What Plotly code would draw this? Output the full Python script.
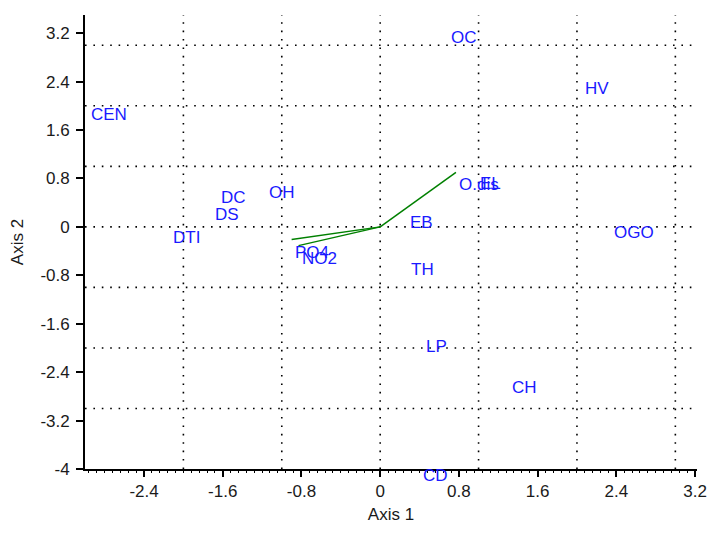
import plotly.graph_objects as go

# Sample scores (Axis 1, Axis 2) – label positions
sample_names = ["CEN", "DC", "DS", "DTI", "OH", "OC", "HV", "EL", "EB", "OGO", "TH", "LP", "CH", "CD"]
sample_x = [-2.76, -1.49, -1.56, -1.97, -1.00, 0.85, 2.20, 1.12, 0.42, 2.58, 0.43, 0.57, 1.47, 0.56]
sample_y = [1.86, 0.48, 0.20, -0.18, 0.56, 3.13, 2.28, 0.72, 0.08, -0.10, -0.71, -1.97, -2.65, -4.10]

# Variable loadings (biplot vectors)
var_names = ["O.dis", "PO4", "NO2"]
var_x = [0.77, -0.90, -0.83]
var_y = [0.90, -0.21, -0.31]

# Grid lines, ranges and ticks
grid_x = [-2, -1, 0, 1, 2, 3]
grid_y = [-3, -2, -1, 0, 1, 2, 3]
x_range = [-3.0, 3.22]
y_range = [-4.0, 3.5]
tick_vals = [-4, -3.2, -2.4, -1.6, -0.8, 0, 0.8, 1.6, 2.4, 3.2]
tick_text = ["-4", "-3.2", "-2.4", "-1.6", "-0.8", "0", "0.8", "1.6", "2.4", "3.2"]

FONT = "Liberation Sans, Arial, sans-serif"
FS = 17
LABEL_COLOR = "#1a1aff"
fig = go.Figure()

for gx in grid_x:
    fig.add_shape(type="line", x0=gx, x1=gx, y0=0, y1=1, xref="x", yref="paper",
                  line=dict(color="black", width=1.6, dash="1.6px,6.8px"), layer="below")
for gy in grid_y:
    fig.add_shape(type="line", x0=0, x1=1, y0=gy, y1=gy, xref="paper", yref="y",
                  line=dict(color="black", width=1.6, dash="1.6px,6.8px"), layer="below")

for name, ex, ey in zip(var_names, var_x, var_y):
    fig.add_trace(go.Scatter(x=[0, ex], y=[0, ey], mode="lines",
                             line=dict(color="#008000", width=1.5),
                             showlegend=False, hoverinfo="skip"))
    fig.add_annotation(x=ex, y=ey, text=name, showarrow=False, xanchor="left", yanchor="top",
                       yshift=-1, xshift=1,
                       font=dict(family=FONT, size=FS, color=LABEL_COLOR))

# sample labels: y in paper units so that labels just outside the y range (CD) stay visible
for name, sx, sy in zip(sample_names, sample_x, sample_y):
    py = (sy - y_range[0]) / (y_range[1] - y_range[0])
    fig.add_annotation(x=sx, y=py, xref="x", yref="paper", text=name, showarrow=False,
                       xanchor="center", yanchor="middle",
                       font=dict(family=FONT, size=FS, color=LABEL_COLOR))

fig.update_layout(
    width=719, height=533,
    margin=dict(l=85, r=12, t=15, b=52),
    plot_bgcolor="white", paper_bgcolor="white",
    font=dict(family=FONT, size=FS, color="#1a1a1a"),
    xaxis=dict(range=x_range, tickmode="array", tickvals=tick_vals, ticktext=tick_text,
               showgrid=False, zeroline=False, showline=True, linecolor="black", linewidth=1.8,
               ticks="outside", ticklen=6, tickwidth=1.5, tickcolor="black",
               minor=dict(dtick=0.08, tick0=0, ticks="outside", ticklen=2, tickcolor="black", tickwidth=1),
               title=dict(text="Axis 1", standoff=8, font=dict(size=FS))),
    yaxis=dict(range=y_range, tickmode="array", tickvals=tick_vals, ticktext=tick_text,
               showgrid=False, zeroline=False, showline=True, linecolor="black", linewidth=1.8,
               ticks="outside", ticklen=7, tickwidth=1.5, tickcolor="black",
               ticklabelstandoff=3,
               title=dict(text="Axis 2", standoff=12, font=dict(size=FS))),
)

fig.write_html("out.html")
